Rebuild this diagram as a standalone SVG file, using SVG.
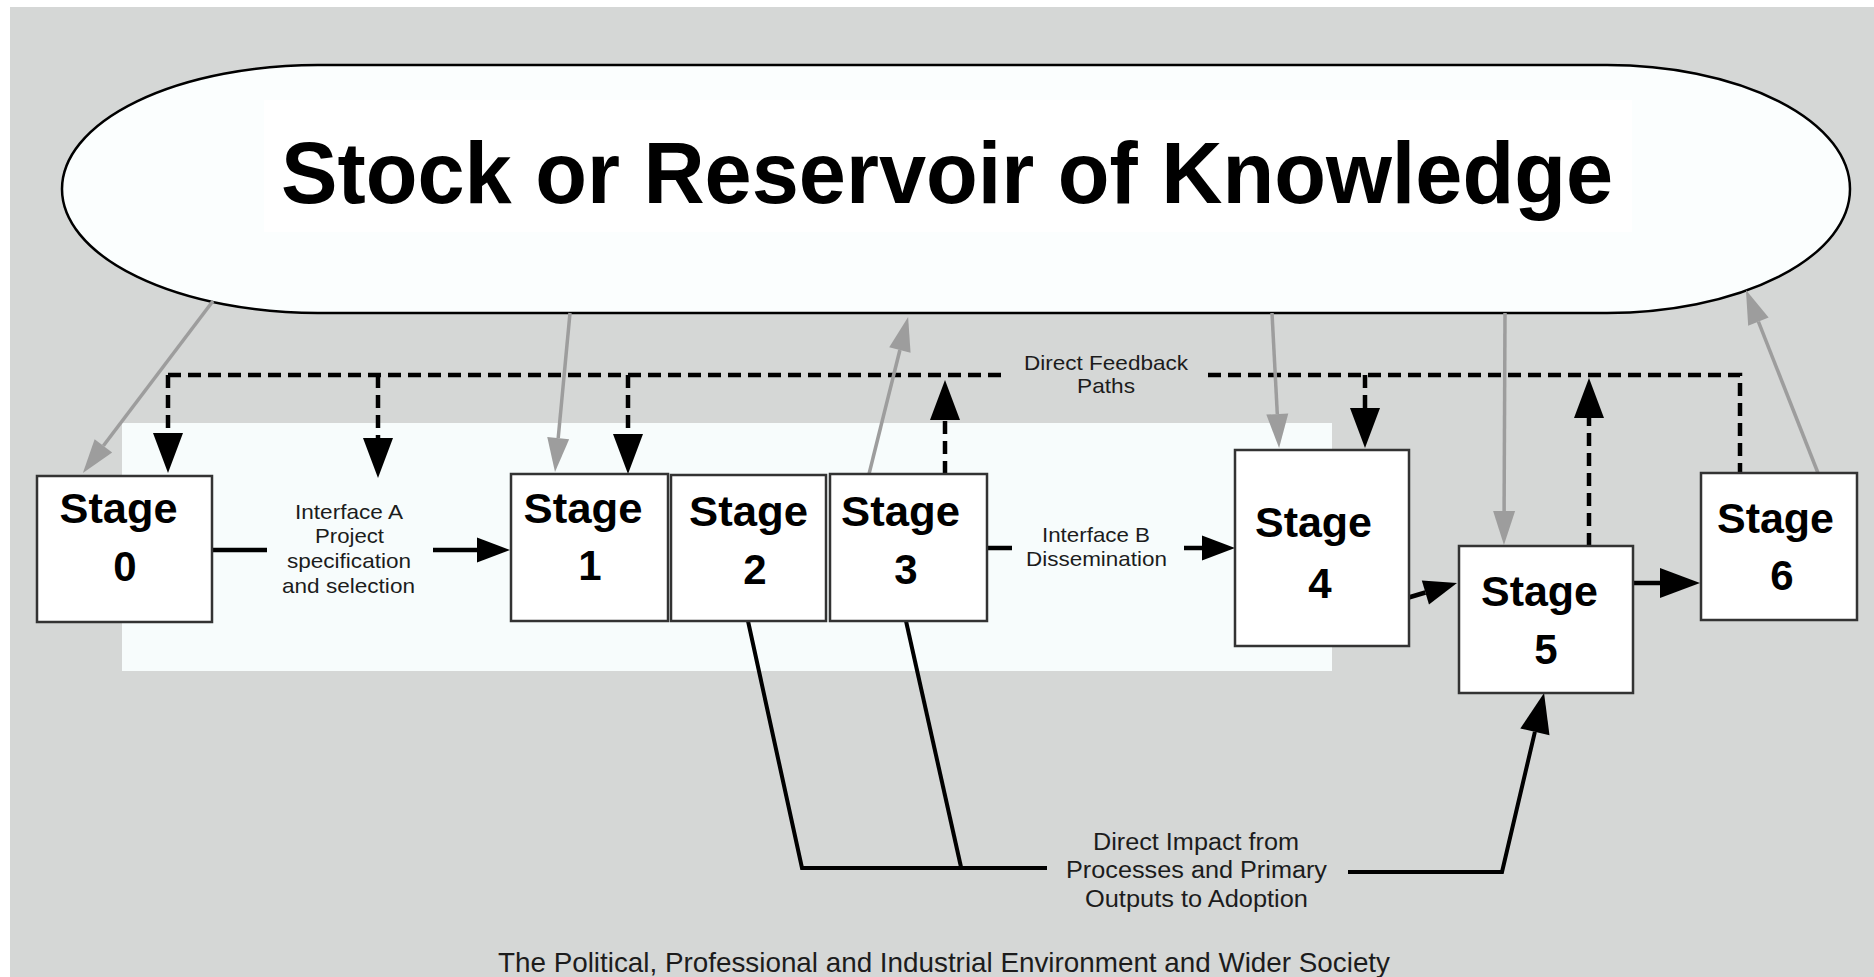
<svg xmlns="http://www.w3.org/2000/svg" width="1874" height="977" viewBox="0 0 1874 977">
  <defs>
    <style>
      .bg { fill: #d5d7d6; }
      .panel { fill: #f7fcfc; }
      .box { fill: #ffffff; stroke: #333333; stroke-width: 2.5; }
      .title { font-family: "Liberation Sans", Arial, sans-serif; font-weight: bold; font-size: 88px; fill: #000000; }
      .stage { font-family: "Liberation Sans", Arial, sans-serif; font-weight: bold; font-size: 42px; fill: #000000; text-anchor: middle; }
      .lbl { font-family: "Liberation Sans", Arial, sans-serif; font-size: 21px; fill: #1c1c1c; text-anchor: middle; }
      .lbl2 { font-family: "Liberation Sans", Arial, sans-serif; font-size: 23.5px; fill: #1c1c1c; text-anchor: middle; }
      .foot { font-family: "Liberation Sans", Arial, sans-serif; font-size: 27.8px; fill: #1c1c1c; text-anchor: middle; }
      .dash { fill: none; stroke: #000000; stroke-width: 4.5; stroke-dasharray: 13 7; }
      .solid { fill: none; stroke: #000000; stroke-width: 4.5; }
      .thin { fill: none; stroke: #000000; stroke-width: 4; }
      .gray { fill: none; stroke: #9d9d9d; stroke-width: 3.5; }
    </style>
    <marker id="ahBig" markerUnits="userSpaceOnUse" markerWidth="40" markerHeight="30" refX="0" refY="15" orient="auto" overflow="visible">
      <path d="M0,0 L40,15 L0,30 Z" fill="#000000"/>
    </marker>
    <marker id="ahMed" markerUnits="userSpaceOnUse" markerWidth="33" markerHeight="25" refX="0" refY="12.5" orient="auto" overflow="visible">
      <path d="M0,0 L33,12.5 L0,25 Z" fill="#000000"/>
    </marker>
    <marker id="ahGray" markerUnits="userSpaceOnUse" markerWidth="34" markerHeight="22" refX="0" refY="11" orient="auto" overflow="visible">
      <path d="M0,0 L34,11 L0,22 Z" fill="#9d9d9d"/>
    </marker>
  </defs>

  <rect x="0" y="0" width="1874" height="977" fill="#ffffff"/>
  <rect class="bg" x="10" y="7" width="1864" height="970"/>
  <rect class="panel" x="122" y="423" width="1210" height="248"/>

  <g id="reservoir">
    <path d="M318,65 H1607 A243,124 0 0 1 1607,313 H318 A256,124 0 0 1 318,65 Z" fill="#fbfefe" stroke="#000000" stroke-width="2.5"/>
    <rect x="264" y="100" width="1368" height="132" fill="#ffffff"/>
    <text class="title" x="281" y="203" textLength="1332" lengthAdjust="spacingAndGlyphs">Stock or Reservoir of Knowledge</text>
  </g>

  <g id="connectors">
    <!-- direct feedback paths (dashed) -->
    <path class="dash" d="M168,375 H1005"/>
    <path class="dash" d="M1208,375 H1740 V473"/>
    <path class="dash" d="M168,375 V433" marker-end="url(#ahBig)"/>
    <path class="dash" d="M378,375 V438" marker-end="url(#ahBig)"/>
    <path class="dash" d="M628,375 V434" marker-end="url(#ahBig)"/>
    <path class="dash" d="M945,474 V420" marker-end="url(#ahBig)"/>
    <path class="dash" d="M1365,375 V408" marker-end="url(#ahBig)"/>
    <path class="dash" d="M1589,546 V418" marker-end="url(#ahBig)"/>

    <!-- knowledge flows (gray) -->
    <path class="gray" d="M213,301 L103.4,445.8" marker-end="url(#ahGray)"/>
    <path class="gray" d="M570,313 L558.2,438.1" marker-end="url(#ahGray)"/>
    <path class="gray" d="M869,474 L899.9,350" marker-end="url(#ahGray)"/>
    <path class="gray" d="M1272,313 L1277.3,414" marker-end="url(#ahGray)"/>
    <path class="gray" d="M1505,313 L1504.1,511" marker-end="url(#ahGray)"/>
    <path class="gray" d="M1818,473 L1758.4,321.6" marker-end="url(#ahGray)"/>

    <!-- main flow -->
    <path class="solid" d="M212,550 H267"/>
    <path class="solid" d="M433,550 H477" marker-end="url(#ahMed)"/>
    <path class="solid" d="M987,548 H1012"/>
    <path class="solid" d="M1184,548 H1202" marker-end="url(#ahMed)"/>
    <path class="solid" d="M1407,598 L1425.4,592.5" marker-end="url(#ahMed)"/>
    <path class="solid" d="M1632,583 H1660" marker-end="url(#ahBig)"/>

    <!-- direct impact -->
    <path class="thin" d="M748,621 L802,868 L1047,868"/>
    <path class="thin" d="M906,621 L961,867"/>
    <path class="thin" d="M1348,872 L1502,872 L1534.9,731.9" marker-end="url(#ahBig)"/>
  </g>

  <g id="stage0">
    <rect class="box" x="37" y="476" width="175" height="146"/>
    <text class="stage" x="118.5" y="523" textLength="118" lengthAdjust="spacingAndGlyphs">Stage</text>
    <text class="stage" x="125" y="581">0</text>
  </g>
  <g id="stage1">
    <rect class="box" x="511" y="474" width="157" height="147"/>
    <text class="stage" x="583" y="523" textLength="119" lengthAdjust="spacingAndGlyphs">Stage</text>
    <text class="stage" x="590" y="580">1</text>
  </g>
  <g id="stage2">
    <rect class="box" x="671" y="475" width="155" height="146"/>
    <text class="stage" x="748.5" y="526" textLength="119" lengthAdjust="spacingAndGlyphs">Stage</text>
    <text class="stage" x="755" y="584">2</text>
  </g>
  <g id="stage3">
    <rect class="box" x="830" y="474" width="157" height="147"/>
    <text class="stage" x="900.5" y="526" textLength="119" lengthAdjust="spacingAndGlyphs">Stage</text>
    <text class="stage" x="906" y="584">3</text>
  </g>
  <g id="stage4">
    <rect class="box" x="1235" y="450" width="174" height="196"/>
    <text class="stage" x="1313.5" y="537" textLength="117" lengthAdjust="spacingAndGlyphs">Stage</text>
    <text class="stage" x="1320" y="598">4</text>
  </g>
  <g id="stage5">
    <rect class="box" x="1459" y="546" width="174" height="147"/>
    <text class="stage" x="1539.5" y="606" textLength="117" lengthAdjust="spacingAndGlyphs">Stage</text>
    <text class="stage" x="1546" y="664">5</text>
  </g>
  <g id="stage6">
    <rect class="box" x="1701" y="473" width="156" height="147"/>
    <text class="stage" x="1775.5" y="533" textLength="117" lengthAdjust="spacingAndGlyphs">Stage</text>
    <text class="stage" x="1782" y="590">6</text>
  </g>

  <g id="labels">
    <text class="lbl" x="349" y="519" textLength="108" lengthAdjust="spacingAndGlyphs">Interface A</text>
    <text class="lbl" x="349.5" y="543" textLength="69" lengthAdjust="spacingAndGlyphs">Project</text>
    <text class="lbl" x="349" y="568" textLength="124" lengthAdjust="spacingAndGlyphs">specification</text>
    <text class="lbl" x="348.5" y="593" textLength="133" lengthAdjust="spacingAndGlyphs">and selection</text>

    <text class="lbl" x="1096" y="542" textLength="108" lengthAdjust="spacingAndGlyphs">Interface B</text>
    <text class="lbl" x="1096.5" y="566" textLength="141" lengthAdjust="spacingAndGlyphs">Dissemination</text>

    <text class="lbl" x="1106" y="370" textLength="164" lengthAdjust="spacingAndGlyphs">Direct Feedback</text>
    <text class="lbl" x="1106" y="393" textLength="58" lengthAdjust="spacingAndGlyphs">Paths</text>

    <text class="lbl2" x="1196" y="850" textLength="206" lengthAdjust="spacingAndGlyphs">Direct Impact from</text>
    <text class="lbl2" x="1196.5" y="878" textLength="261" lengthAdjust="spacingAndGlyphs">Processes and Primary</text>
    <text class="lbl2" x="1196.5" y="907" textLength="223" lengthAdjust="spacingAndGlyphs">Outputs to Adoption</text>

    <text class="foot" x="944" y="972" textLength="892" lengthAdjust="spacingAndGlyphs">The Political, Professional and Industrial Environment and Wider Society</text>
  </g>
</svg>
